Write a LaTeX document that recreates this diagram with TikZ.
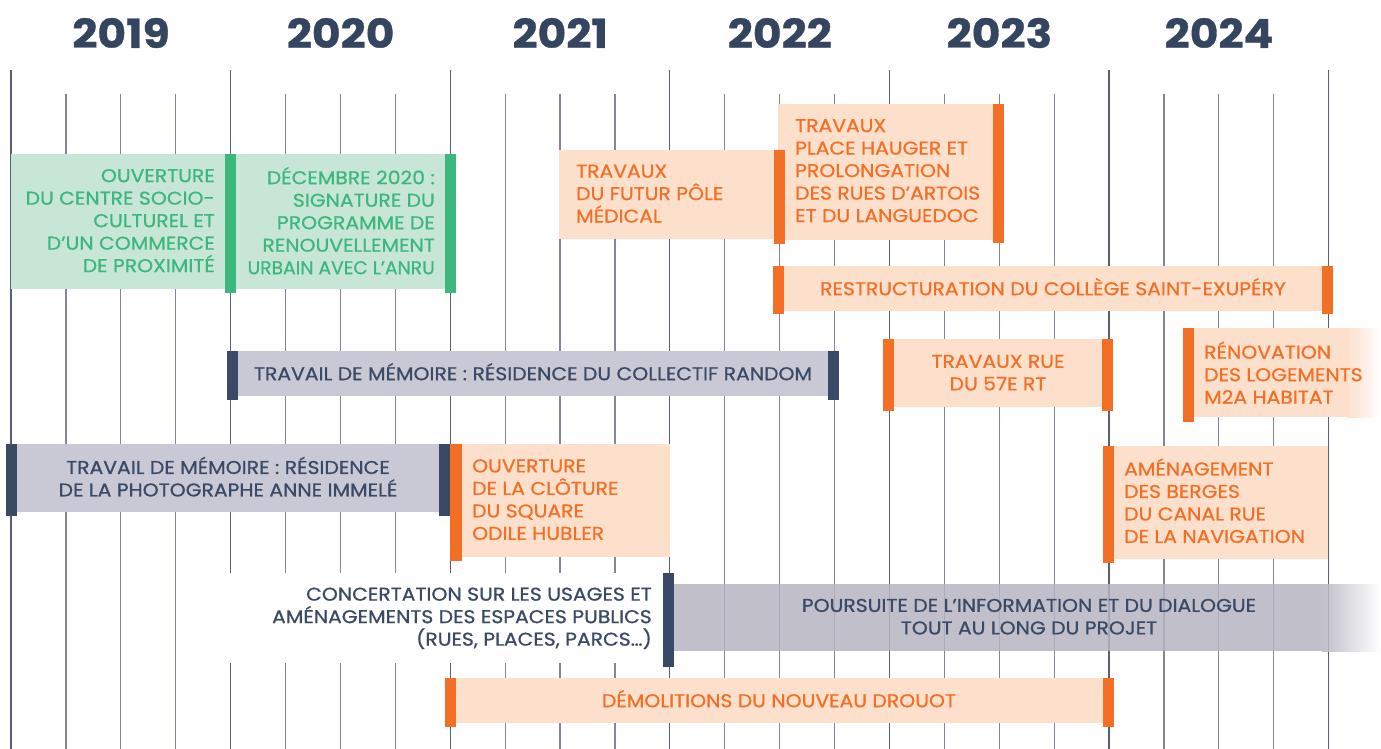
\documentclass[tikz,border=0pt]{standalone}
\usepackage{fontspec}
\setmainfont{Poppins}[FakeStretch=1.1, FakeBold=0.8]

\definecolor{navy}{HTML}{3A4A66}
\definecolor{yearblue}{HTML}{34455F}
\definecolor{orng}{HTML}{F36F26}
\definecolor{lorng}{HTML}{FDE0CC}
\definecolor{grn}{HTML}{3CB77E}
\definecolor{lgrn}{HTML}{C8E6D5}
\definecolor{lgray}{HTML}{C8C9D4}
\definecolor{pgray}{HTML}{B5B4C1}
\definecolor{qcol}{HTML}{858597}
\definecolor{ycol}{HTML}{5A6070}

\tikzset{
  qtick/.style={qcol, line width=1.2pt},
  ytick/.style={ycol, line width=1.3pt},
  yearlbl/.style={font=\fontsize{40}{48}\selectfont\bfseries, text=yearblue, inner sep=0},
  boxtxt/.style={font=\fontsize{18.5}{22.5}\selectfont, inner sep=0,
    execute at begin node=\strut, execute at end node=\strut},
  otxt/.style={boxtxt, text=orng},
  gtxt/.style={boxtxt, text=grn, align=right, anchor=east},
  ntxt/.style={boxtxt, text=navy}
}

\begin{document}
\begin{tikzpicture}[x=1pt,y=-1pt]
\useasboundingbox (0,0) rectangle (1381,749);

\foreach \yr [count=\i from 0] in {2019,2020,2021,2022,2023,2024}
  \node[yearlbl] (y\yr) at (121+219.6*\i,33) {\yr};

\foreach \k in {0,...,24}
  \draw[qtick] (11+54.9*\k,94) -- (11+54.9*\k,749);
\foreach \k in {0,4,...,24}
  \draw[ytick] (11+54.9*\k,70) -- (11+54.9*\k,749);

\fill[white] (195,573) rectangle (663,663);

\fill[lgrn] (11,154) rectangle (226,289);
\fill[grn] (225,154) rectangle (236,293);
\fill[lgrn] (236,154) rectangle (445,289);
\fill[grn] (445,154) rectangle (456,293);
\node[gtxt] (ouvcentre) at (215,224) {OUVERTURE\\DU CENTRE SOCIO-\\CULTUREL ET\\D’UN COMMERCE\\DE PROXIMITÉ};
\node[gtxt] (anru) at (435,224) {DÉCEMBRE 2020 :\\SIGNATURE DU\\PROGRAMME DE\\RENOUVELLEMENT\\\scalebox{0.92}[1]{URBAIN AVEC L’ANRU}};

\fill[lorng] (778,104) rectangle (993,240);
\fill[orng] (993,104) rectangle (1004,243);
\node[otxt, align=left, anchor=west] (hauger) at (795,174) {TRAVAUX\\PLACE HAUGER ET\\PROLONGATION\\DES RUES D’ARTOIS\\ET DU LANGUEDOC};

\fill[lorng] (559,150) rectangle (774,239);
\fill[orng] (774,150) rectangle (785,244);
\node[otxt, align=left, anchor=west] (polemed) at (576,197) {TRAVAUX\\DU FUTUR PÔLE\\MÉDICAL};

\fill[lorng] (784,266) rectangle (1322,311);
\fill[orng] (773,266) rectangle (784,314);
\fill[orng] (1322,266) rectangle (1333,314);
\node[otxt] (college) at (1053,290) {RESTRUCTURATION DU COLLÈGE SAINT-EXUPÉRY};

\fill[lgray] (238,351) rectangle (828,396);
\fill[navy] (227,351) rectangle (238,400);
\fill[navy] (828,351) rectangle (839,400);
\node[ntxt] (random) at (533,375) {TRAVAIL DE MÉMOIRE : RÉSIDENCE DU COLLECTIF RANDOM};

\fill[lorng] (894,339) rectangle (1102,407);
\fill[orng] (883,339) rectangle (894,411);
\fill[orng] (1102,339) rectangle (1113,411);
\node[otxt, align=center] (rue57) at (998,376) {TRAVAUX RUE\\DU 57E RT};

\fill[lorng] (1194,328) rectangle (1347,417);
\shade[left color=lorng, right color=white] (1347,328) rectangle (1381,417);
\fill[orng] (1183,328) rectangle (1194,422);
\node[otxt, align=left, anchor=west] (m2a) at (1204,376) {RÉNOVATION\\DES LOGEMENTS\\M2A HABITAT};

\fill[lgray] (17,444) rectangle (439,512);
\fill[navy] (6,444) rectangle (17,516);
\fill[navy] (439,444) rectangle (450,516);
\node[ntxt, align=center] (photo) at (228,480) {TRAVAIL DE MÉMOIRE : RÉSIDENCE\\DE LA PHOTOGRAPHE ANNE IMMELÉ};

\fill[lorng] (461,444) rectangle (670,557);
\fill[orng] (450,444) rectangle (462,561);
\node[otxt, align=left, anchor=west] (square) at (472,503) {OUVERTURE\\DE LA CLÔTURE\\DU SQUARE\\ODILE HUBLER};

\fill[lorng] (1114,446) rectangle (1328,559);
\fill[orng] (1103,446) rectangle (1114,563);
\node[otxt, align=left, anchor=west] (berges) at (1124,504) {AMÉNAGEMENT\\DES BERGES\\DU CANAL RUE\\DE LA NAVIGATION};

\node[ntxt, align=right, anchor=east] (concert) at (652,620) {CONCERTATION SUR LES USAGES ET\\AMÉNAGEMENTS DES ESPACES PUBLICS\\(RUES, PLACES, PARCS…)};
\fill[pgray, fill opacity=.85] (674,584) rectangle (1322,651);
\shade[left color=pgray, right color=white, opacity=.85] (1322,584) rectangle (1381,651);
\fill[navy] (663,573) rectangle (674,667);
\node[ntxt, align=center] (dialogue) at (1029,620) {POURSUITE DE L’INFORMATION ET DU DIALOGUE\\TOUT AU LONG DU PROJET};

\fill[lorng] (456,678) rectangle (1103,723);
\fill[orng] (445,678) rectangle (456,727);
\fill[orng] (1103,678) rectangle (1114,727);
\node[otxt] (drouot) at (779,702) {DÉMOLITIONS DU NOUVEAU DROUOT};
\end{tikzpicture}
\end{document}
